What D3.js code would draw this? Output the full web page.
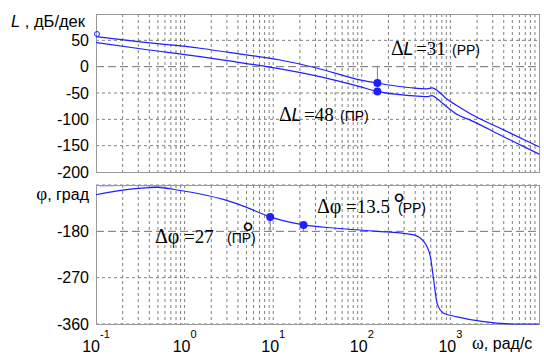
<!DOCTYPE html>
<html>
<head>
<meta charset="utf-8">
<script src="https://cdn.jsdelivr.net/npm/d3@7"></script>
<style>
  html, body { margin: 0; padding: 0; background: #fff; }
  svg { display: block; }
  text { font-family: "Liberation Sans", Arial, sans-serif; fill: #000; }
  .serif { font-family: "Liberation Serif", "Times New Roman", serif; }
</style>
</head>
<body>
<svg id="chart" width="544" height="356"></svg>
<script>
// magnitude, system "PP" (upper line)
const omegaPP = [0.1, 0.316, 1.5, 3.16, 12, 31.6, 95, 148, 355, 546, 621, 719, 891, 1297, 1700, 3981, 10000];
const magPP   = [57, 47, 35, 27, 12.7, -3, -25, -31, -40, -42, -40.4, -46, -60, -78, -90, -120, -152];

// magnitude, system "ПР" (lower line)
const omegaPR = [0.1, 0.316, 1.5, 3.16, 8.5, 31.6, 95, 148, 355, 546, 621, 733, 891, 1191, 1700, 3981, 10000];
const magPR   = [46, 34, 19, 11, 0, -18, -38, -47, -55, -57, -55, -63, -75, -91, -102, -133, -166];

// phase
const omegaPh = [0.1, 0.2, 0.49, 0.82, 1.5, 2.74, 4.6, 9.25, 22, 52.5, 150, 193, 385, 501, 594, 647, 708, 839, 1191, 2377, 5675, 10000];
const phase   = [-109, -100, -94.5, -99.7, -107.5, -118, -131, -152, -167.5, -174, -180, -181, -187, -200, -229, -274, -320, -339, -346, -355.5, -360, -360];

// faint second phase trace near the top
const omegaPh2 = [0.11, 0.25, 0.5, 0.75];
const phase2   = [-92, -91, -93, -98];

const magTicks = [50, 0, -50, -100, -150, -200];
const phaseTicks = [-180, -270, -360];
const decades = [-1, 0, 1, 2, 3];

const marginOmega = 150;
const marginMag = [-31, -47];
const phaseMarkOmega = [9.25, 22];
const phaseMarkVal = [-152, -167.5];

const svg = d3.select('#chart');
const blue = '#1f1fff';

const x = d3.scaleLog().domain([0.1, 10000]).range([96, 539]);
const yL = d3.scaleLinear().domain([-200, 100]).range([172, 14]);
const yP = d3.scaleLinear().domain([-360, -90]).range([324, 185]);

const minor = [];
for (let k = -1; k <= 3; k++) {
    for (let m = 1; m <= 9; m++) minor.push(m * Math.pow(10, k));
}

function panel(y, hTicks, longVal) {
    const g = svg.append('g');
    const [y0, y1] = y.range();
    g.selectAll('line.v')
        .data(minor.slice(1))
        .enter()
        .append('line')
        .attr('x1', d => x(d)).attr('x2', d => x(d))
        .attr('y1', y1).attr('y2', y0)
        .attr('stroke', '#808080')
        .attr('stroke-dasharray', '3,3');
    g.selectAll('line.h')
        .data(hTicks)
        .enter()
        .append('line')
        .attr('x1', x.range()[0]).attr('x2', x.range()[1])
        .attr('y1', d => y(d)).attr('y2', d => y(d))
        .attr('stroke', d => d === longVal ? '#707070' : '#808080')
        .attr('stroke-dasharray', d => d === longVal ? '8,4' : '3,3');
    g.append('rect')
        .attr('x', x.range()[0] + 0.5).attr('y', y1 + 0.5)
        .attr('width', x.range()[1] - x.range()[0])
        .attr('height', y0 - y1)
        .attr('fill', 'none')
        .attr('stroke', '#9a9a9a');
    return g;
}

panel(yL, [50, 0, -50, -100, -150], 0);
panel(yP, [-90, -180, -270, -360], -180);

// y tick labels
svg.append('g').selectAll('text')
    .data(magTicks)
    .enter()
    .append('text')
    .attr('x', 89).attr('y', d => yL(d))
    .attr('dy', '0.36em')
    .attr('text-anchor', 'end')
    .attr('font-size', 16)
    .text(d => d);

svg.append('g').selectAll('text')
    .data(phaseTicks)
    .enter()
    .append('text')
    .attr('x', 89).attr('y', d => yP(d))
    .attr('dy', '0.36em')
    .attr('text-anchor', 'end')
    .attr('font-size', 16)
    .text(d => d);

// axis titles
const tL = svg.append('text').attr('x', 11).attr('y', 27).attr('font-size', 16.5);
tL.append('tspan').attr('font-style', 'italic').text('L');
tL.append('tspan').text(' , дБ/дек');

const tP = svg.append('text').attr('x', 89).attr('y', 200).attr('text-anchor', 'end').attr('font-size', 16);
tP.append('tspan').attr('class', 'serif').attr('font-size', 19).text('φ');
tP.append('tspan').text(', град');

// x tick labels 10^k
const xl = svg.append('g').selectAll('text')
    .data(decades)
    .enter()
    .append('text')
    .attr('x', d => x(Math.pow(10, d)))
    .attr('y', 352)
    .attr('text-anchor', 'middle')
    .attr('font-size', 16);
xl.append('tspan').text('10');
xl.append('tspan').attr('dy', -14).attr('font-size', 11).text(d => d);

const tW = svg.append('text').attr('x', 472).attr('y', 349).attr('font-size', 16);
tW.append('tspan').attr('class', 'serif').attr('font-size', 18).text('ω');
tW.append('tspan').text(', рад/с');

// curves
const lineL = d3.line().x(d => x(d[0])).y(d => yL(d[1])).curve(d3.curveMonotoneX);
const lineP = d3.line().x(d => x(d[0])).y(d => yP(d[1])).curve(d3.curveMonotoneX);

svg.append('path')
    .attr('d', lineP(d3.zip(omegaPh2, phase2)))
    .attr('fill', 'none').attr('stroke', '#8c8cff').attr('stroke-width', 1);

[[omegaPP, magPP], [omegaPR, magPR]].forEach(([w, m]) => {
    svg.append('path')
        .attr('d', lineL(d3.zip(w, m)))
        .attr('fill', 'none').attr('stroke', blue).attr('stroke-width', 1.2);
});

svg.append('path')
    .attr('d', lineP(d3.zip(omegaPh, phase)))
    .attr('fill', 'none').attr('stroke', blue).attr('stroke-width', 1.2);

svg.append('circle')
    .attr('cx', x(0.1) + 1).attr('cy', yL(62)).attr('r', 2.5)
    .attr('fill', 'none').attr('stroke', blue);

// margin markers
svg.append('line')
    .attr('x1', x(marginOmega)).attr('x2', x(marginOmega))
    .attr('y1', yL(0)).attr('y2', yL(marginMag[0]))
    .attr('stroke', '#808080');
phaseMarkOmega.forEach((w, i) => {
    svg.append('line')
        .attr('x1', x(w)).attr('x2', x(w))
        .attr('y1', yP(phaseMarkVal[i])).attr('y2', yP(-180))
        .attr('stroke', '#808080');
});

svg.append('g').selectAll('circle')
    .data(marginMag)
    .enter()
    .append('circle')
    .attr('cx', x(marginOmega)).attr('cy', d => yL(d)).attr('r', 4)
    .attr('fill', blue);

svg.append('g').selectAll('circle')
    .data(phaseMarkOmega)
    .enter()
    .append('circle')
    .attr('cx', d => x(d)).attr('cy', (d, i) => yP(phaseMarkVal[i])).attr('r', 4)
    .attr('fill', blue);

// annotations
function deltaL(x0, y0, val, tag) {
    const t = svg.append('text').attr('y', y0);
    t.append('tspan').attr('x', x0).attr('class', 'serif').attr('font-size', 20).text('Δ');
    t.append('tspan').attr('x', x0 + 12.5).attr('font-style', 'italic').attr('font-size', 18).text('L');
    t.append('tspan').attr('x', x0 + 25).attr('class', 'serif').attr('font-size', 19).text('=' + val);
    t.append('tspan').attr('x', x0 + 61).attr('font-size', 14).text('(' + tag + ')');
}
deltaL(391, 55, 31, 'PP');
deltaL(279, 121, 48, 'ПР');

// degree sign kept inside the same text, raised above the tag
function deltaPhi(x0, y0, val, gap, degX, degY, tag) {
    const t = svg.append('text').attr('y', y0);
    t.append('tspan').attr('x', x0).attr('class', 'serif').attr('font-size', 20).text('Δφ');
    t.append('tspan').attr('x', x0 + 29).attr('class', 'serif').attr('font-size', 19).text('=' + val);
    t.append('tspan').attr('x', degX).attr('y', degY).attr('font-size', 30).text('°');
    t.append('tspan').attr('x', x0 + gap).attr('y', y0).attr('font-size', 14).text('(' + tag + ')');
}
deltaPhi(155, 243, 27, 72, 242, 243, 'ПР');
deltaPhi(317, 213, 13.5, 81, 393, 214, 'PP');
</script>
</body>
</html>
